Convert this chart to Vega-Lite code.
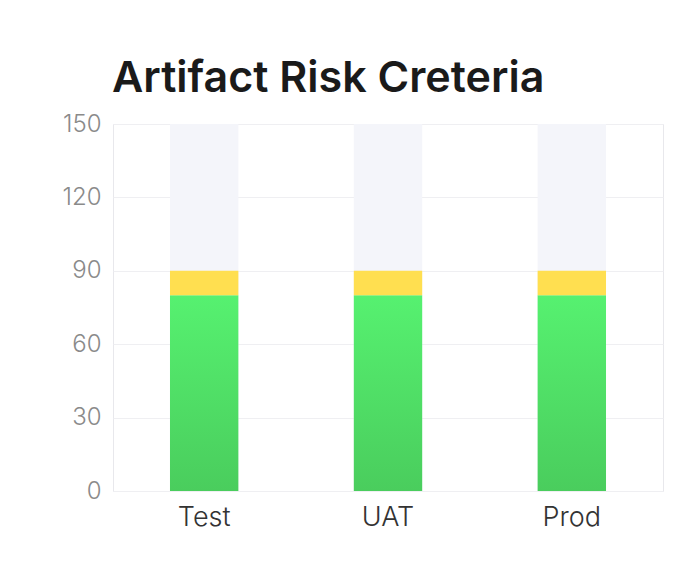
{
  "$schema": "https://vega.github.io/schema/vega-lite/v6.json",
  "autosize": {"type": "none"},
  "width": 550,
  "height": 367,
  "padding": {"left": 113, "top": 124, "right": 30, "bottom": 78},
  "background": "#ffffff",
  "title": {
    "text": "Artifact Risk Creteria",
    "anchor": "start",
    "frame": "group",
    "font": "Inter",
    "fontSize": 43,
    "fontWeight": 600,
    "color": "#1a1a1a",
    "offset": 11,
    "dx": -1
  },
  "config": {
    "view": {"stroke": "#e8e8ec", "strokeWidth": 1},
    "axis": {"domain": false, "ticks": false, "gridColor": "#efeff2", "labelFont": "Inter", "labelFontWeight": 300}
  },
  "data": {
    "values": [
      {"env": "Test", "level": "Max", "start": 0, "end": 150},
      {"env": "UAT", "level": "Max", "start": 0, "end": 150},
      {"env": "Prod", "level": "Max", "start": 0, "end": 150},
      {"env": "Test", "level": "Pass", "start": 0, "end": 80},
      {"env": "UAT", "level": "Pass", "start": 0, "end": 80},
      {"env": "Prod", "level": "Pass", "start": 0, "end": 80},
      {"env": "Test", "level": "Warning", "start": 80, "end": 90},
      {"env": "UAT", "level": "Warning", "start": 80, "end": 90},
      {"env": "Prod", "level": "Warning", "start": 80, "end": 90}
    ]
  },
  "encoding": {
    "x": {
      "field": "env",
      "type": "nominal",
      "sort": ["Test", "UAT", "Prod"],
      "scale": {"paddingInner": 0.628, "paddingOuter": 0.31},
      "axis": {"title": null, "labelAngle": 0, "labelFontSize": 27, "labelColor": "#333333", "labelPadding": 13, "grid": false}
    },
    "y": {
      "field": "start",
      "type": "quantitative",
      "scale": {"domain": [0, 150]},
      "axis": {"title": null, "values": [0, 30, 60, 90, 120, 150], "labelFontSize": 24, "labelColor": "#8a8a8a", "labelPadding": 12, "grid": true}
    },
    "y2": {"field": "end"}
  },
  "layer": [
    {
      "transform": [{"filter": "datum.level === 'Max'"}],
      "mark": {"type": "bar", "color": "#f4f5fa"}
    },
    {
      "transform": [{"filter": "datum.level === 'Pass'"}],
      "mark": {
        "type": "bar",
        "color": {
          "gradient": "linear", "x1": 0, "y1": 0, "x2": 0, "y2": 1,
          "stops": [{"offset": 0, "color": "#56f170"}, {"offset": 1, "color": "#4acd5d"}]
        }
      }
    },
    {
      "transform": [{"filter": "datum.level === 'Warning'"}],
      "mark": {"type": "bar", "color": "#ffdf50"}
    }
  ]
}
